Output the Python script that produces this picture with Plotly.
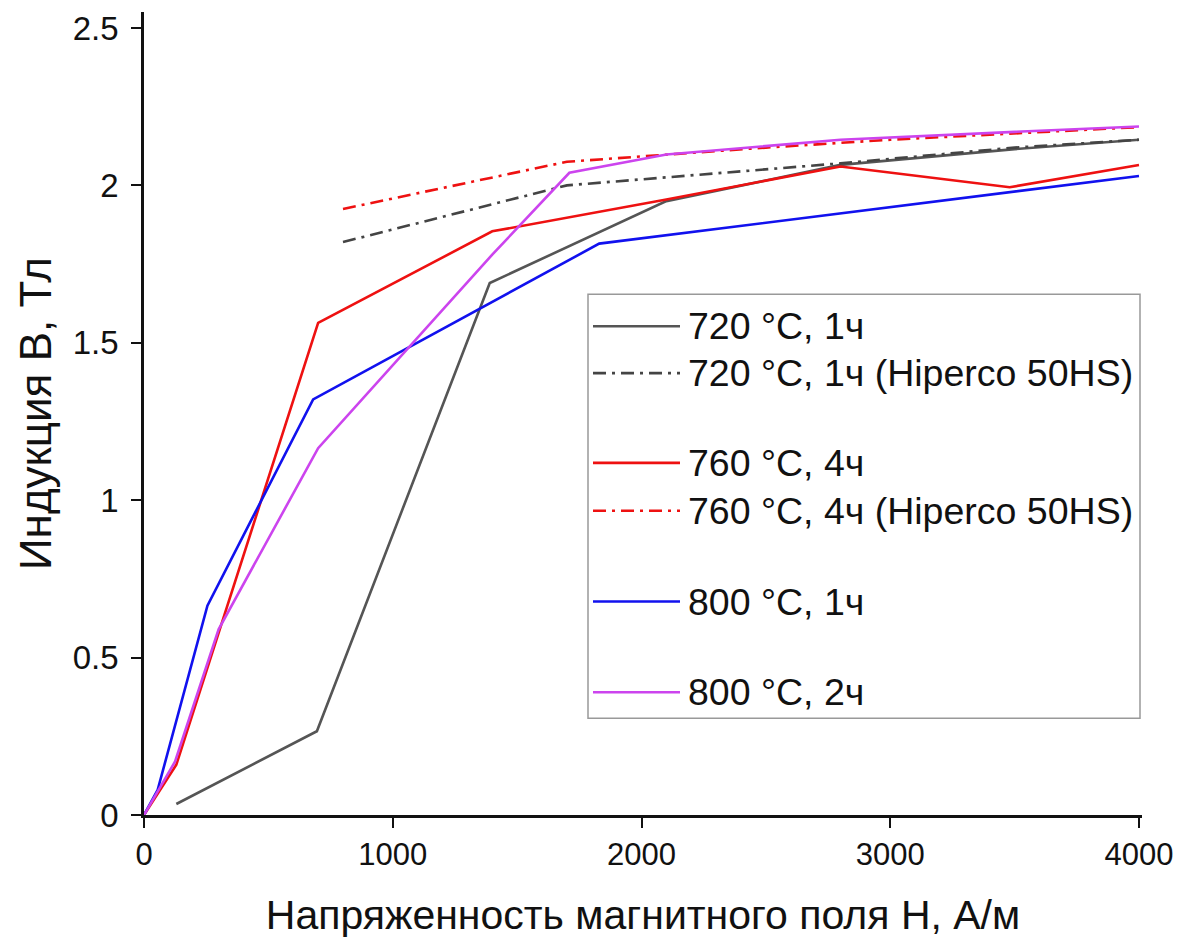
import plotly.graph_objects as go

# Magnetisation curves B(H) for different annealing regimes
h_720 = [130, 695, 1390, 2100, 2800, 3500, 4000]
b_720 = [0.035, 0.266, 1.69, 1.95, 2.065, 2.115, 2.145]

h_720_hs = [800, 1700, 2800, 3500, 4000]
b_720_hs = [1.82, 2.0, 2.07, 2.12, 2.145]

h_760 = [0, 130, 700, 1400, 2100, 2800, 3480, 4000]
b_760 = [0.0, 0.16, 1.563, 1.854, 1.955, 2.06, 1.994, 2.065]

h_760_hs = [800, 1700, 2500, 3000, 4000]
b_760_hs = [1.925, 2.075, 2.12, 2.145, 2.185]

h_800_1 = [0, 55, 255, 680, 1830, 4000]
b_800_1 = [0.0, 0.08, 0.665, 1.32, 1.815, 2.03]

h_800_2 = [0, 125, 300, 700, 1400, 1710, 2100, 2800, 3500, 4000]
b_800_2 = [0.0, 0.17, 0.59, 1.165, 1.78, 2.04, 2.098, 2.145, 2.17, 2.187]

names = [
    "720 °C, 1ч",
    "720 °C, 1ч (Hiperco 50HS)",
    "760 °C, 4ч",
    "760 °C, 4ч (Hiperco 50HS)",
    "800 °C, 1ч",
    "800 °C, 2ч",
]
colors = ["#555555", "#444444", "#ee1111", "#ee1111", "#1111ee", "#cc44ee"]
dashes = ["solid", "13px,6px,3px,6px", "solid", "13px,6px,3px,6px", "solid", "solid"]
xs = [h_720, h_720_hs, h_760, h_760_hs, h_800_1, h_800_2]
ys = [b_720, b_720_hs, b_760, b_760_hs, b_800_1, b_800_2]

FONT = "Liberation Sans, Arial, sans-serif"
W, H = 1184, 941
ML, MR, MT, MB = 144, 42, 10, 126
PW, PH = W - ML - MR, H - MT - MB

fig = go.Figure()
for x, y, name, c, d in zip(xs, ys, names, colors, dashes):
    fig.add_trace(go.Scatter(x=x, y=y, mode="lines", name=name,
                             line=dict(color=c, width=2.6, dash=d),
                             showlegend=False))


def px_x(px):
    return (px - ML) / PW


def px_y(py):
    return (H - MB - py) / PH


# Framed legend with long line samples and blank rows between groups
shapes = [dict(type="rect", xref="paper", yref="paper",
               x0=px_x(588), x1=px_x(1140), y0=px_y(718), y1=px_y(293),
               line=dict(color="#999999", width=1.5), fillcolor="white", layer="below")]
annotations = []
row_y = [325, 372, 462, 510, 601, 692]
for name, c, d, ry in zip(names, colors, dashes, row_y):
    shapes.append(dict(type="line", xref="paper", yref="paper",
                       x0=px_x(593), x1=px_x(680), y0=px_y(ry), y1=px_y(ry),
                       line=dict(color=c, width=2.6, dash=d)))
    annotations.append(dict(xref="paper", yref="paper", x=px_x(686), y=px_y(ry),
                            text=name, showarrow=False, xanchor="left", yanchor="middle",
                            font=dict(family=FONT, size=37.5, color="#111111")))

fig.update_layout(
    width=W, height=H,
    margin=dict(l=ML, r=MR, t=MT, b=MB),
    paper_bgcolor="white", plot_bgcolor="white",
    font=dict(family=FONT, size=28, color="#111111"),
    shapes=shapes, annotations=annotations,
    xaxis=dict(range=[0, 4000 * PW / 995], tickvals=[0, 1000, 2000, 3000, 4000],
               showgrid=False, zeroline=False, showline=True, linecolor="#111111",
               linewidth=2.5, ticks="outside", ticklen=10, tickwidth=2,
               tickcolor="#111111", tickfont=dict(size=31),
               title=dict(text="Напряженность магнитного поля H, А/м",
                          font=dict(size=41), standoff=30)),
    yaxis=dict(range=[0, 2.5 * PH / 789], tickvals=[0, 0.5, 1, 1.5, 2, 2.5],
               ticktext=["0", "0.5", "1", "1.5", "2", "2.5"],
               showgrid=False, zeroline=False, showline=True, linecolor="#111111",
               linewidth=2.5, ticks="outside", ticklen=10, tickwidth=2,
               tickcolor="#111111", tickfont=dict(size=33), ticklabelstandoff=6,
               title=dict(text="Индукция B, Тл", font=dict(size=44), standoff=8)),
)

fig.write_html("out.html")
